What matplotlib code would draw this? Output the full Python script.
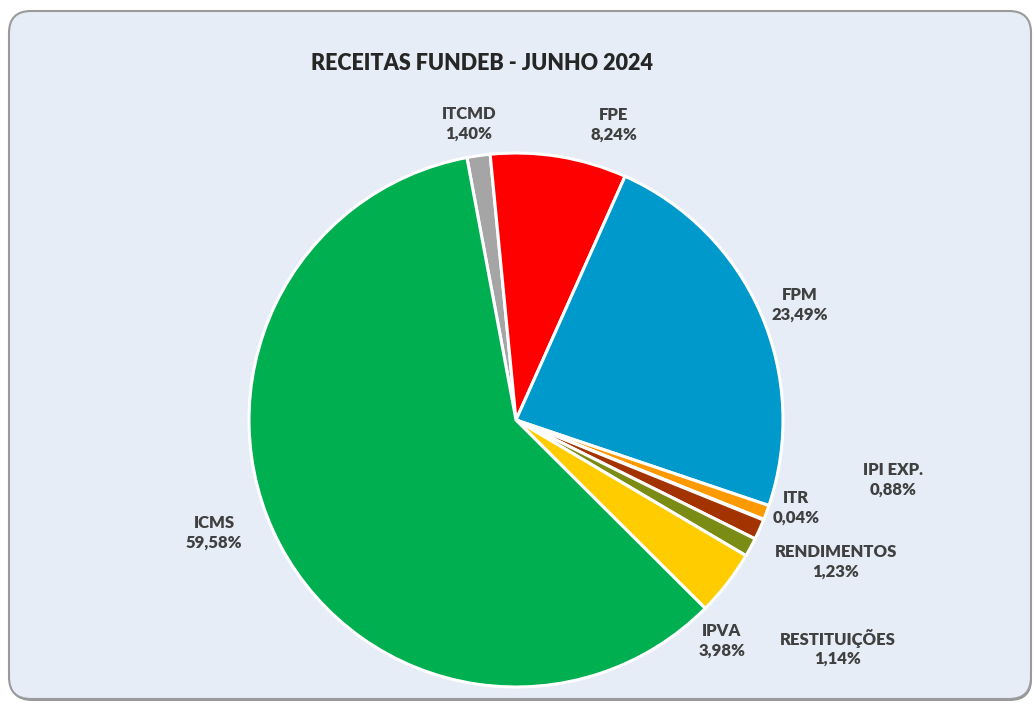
import matplotlib
matplotlib.use('Agg')
import matplotlib.pyplot as plt
from matplotlib.patches import FancyBboxPatch

plt.rcParams['font.family'] = ['Lato', 'DejaVu Sans']

categories = ['ITCMD', 'FPE', 'FPM', 'IPI EXP.', 'ITR', 'RENDIMENTOS',
              'RESTITUIÇÕES', 'IPVA', 'ICMS']
shares = [1.40, 8.24, 23.49, 0.88, 0.04, 1.23, 1.14, 3.98, 59.58]
share_labels = ['1,40%', '8,24%', '23,49%', '0,88%', '0,04%', '1,23%',
                '1,14%', '3,98%', '59,58%']
colors = ['#a5a5a5', '#ff0000', '#0099cc', '#ff9900', '#5b7fbf', '#a33300',
          '#7a8c14', '#ffcc00', '#00b050']
title = 'RECEITAS FUNDEB - JUNHO 2024'

# label positions in pixels (x, y from top)
label_pos = [(469, 124), (614, 125), (800, 305), (893, 480), (796, 508),
             (836, 562), (838, 648), (722, 641), (214, 533)]

W, H = 1035, 703
fig = plt.figure(figsize=(W / 100, H / 100), dpi=100)
fig.patch.set_facecolor('white')
ax = fig.add_axes([0, 0, 1, 1])
ax.set_xlim(0, W)
ax.set_ylim(0, H)
ax.set_aspect('equal')
ax.axis('off')

# shadow + frame
ax.add_patch(FancyBboxPatch((10, 2), 1022, 688, boxstyle='round,pad=0,rounding_size=22',
                            facecolor='#555555', edgecolor='none', alpha=0.6, zorder=0))
ax.add_patch(FancyBboxPatch((9, 4), 1022, 688, boxstyle='round,pad=0,rounding_size=22',
                            facecolor='#e6edf6', edgecolor='#9a9a9a', linewidth=1.5, zorder=1))

ax.pie(shares, colors=colors, startangle=100.6, counterclock=False,
       center=(516, H - 420), radius=267, frame=True,
       wedgeprops=dict(edgecolor='white', linewidth=2.2, zorder=2))
ax.set_xlim(0, W)
ax.set_ylim(0, H)
ax.axis('off')

for name, lab, (x, y) in zip(categories, share_labels, label_pos):
    ax.text(x, H - y, f'{name}\n{lab}', ha='center', va='center', fontsize=12,
            fontweight='heavy', color='#404040', linespacing=1.25, zorder=3)

ax.text(482, H - 64, title, ha='center', va='center', fontsize=15.5,
        fontweight='heavy', color='#262626', zorder=3)

fig.savefig('out.png', dpi=100)
